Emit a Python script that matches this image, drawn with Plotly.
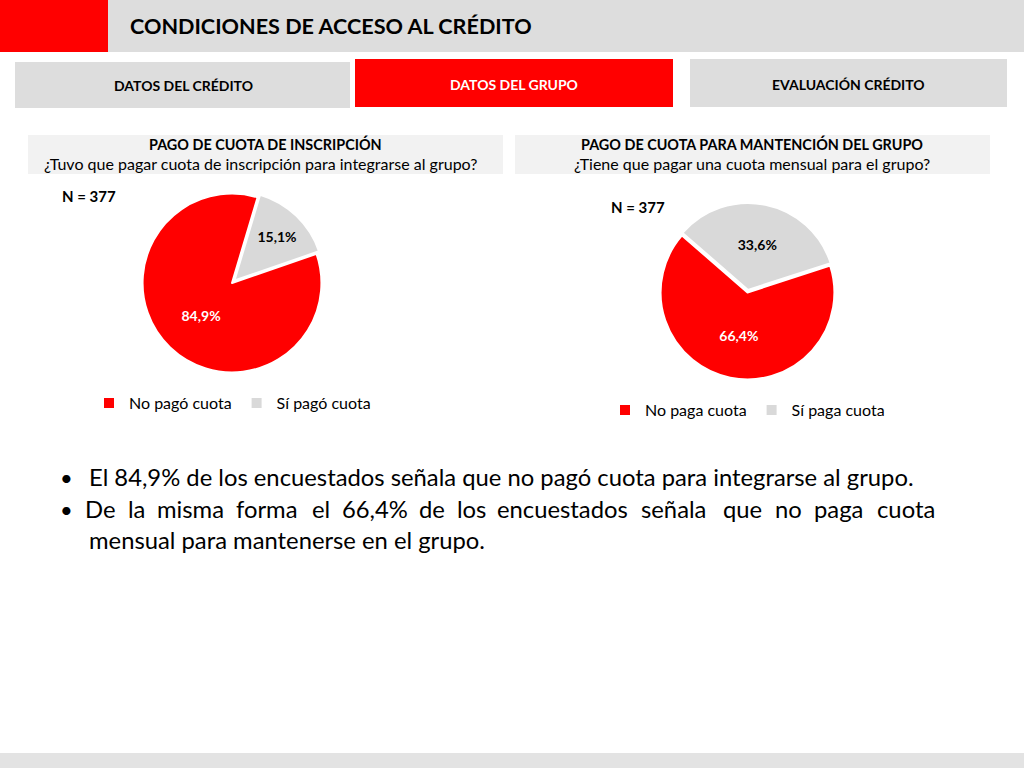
import plotly.graph_objects as go

W, H = 1024, 768

# chart data
labels_inscripcion = ["No pagó cuota", "Sí pagó cuota"]
values_inscripcion = [84.9, 15.1]
labels_mensual = ["No paga cuota", "Sí paga cuota"]
values_mensual = [66.4, 33.6]
n_encuestados = [377, 377]

RED = "#FF0000"
GRAY = "#D9D9D9"
FONT = "Lato"

def px(x):
  return x / W

def py(y):
  return 1 - y / H

def box(x0, y0, x1, y1, color):
  return dict(type="rect", xref="paper", yref="paper", x0=px(x0), x1=px(x1),
              y0=py(y1), y1=py(y0), fillcolor=color, line=dict(width=0), layer="below")

def text(x, y, s, size, color="black", xanchor="center", bold=False):
  if bold:
    s = "<b>" + s + "</b>"
  return dict(x=px(x), y=py(y), xref="paper", yref="paper", text=s, showarrow=False,
              xanchor=xanchor, yanchor="middle", font=dict(family=FONT, size=size, color=color))

fig = go.Figure()

fig.add_trace(go.Pie(
  labels=labels_inscripcion,
  values=values_inscripcion,
  sort=False,
  direction="clockwise",
  rotation=71,
  marker=dict(colors=[RED, GRAY], line=dict(color="white", width=2)),
  pull=[0, 0.04],
  texttemplate="<b>%{value:.1f}%</b>",
  textposition="inside",
  insidetextorientation="horizontal",
  textfont=dict(family=FONT, size=14, color=["white", "black"]),
  domain=dict(x=[px(139), px(325)], y=[py(376), py(190)]),
  legend="legend",
  hoverinfo="label+percent",
))

fig.add_trace(go.Pie(
  labels=labels_mensual,
  values=values_mensual,
  sort=False,
  direction="clockwise",
  rotation=72,
  marker=dict(colors=[RED, GRAY], line=dict(color="white", width=2)),
  pull=[0, 0.03],
  texttemplate="<b>%{value:.1f}%</b>",
  textposition="inside",
  insidetextorientation="horizontal",
  textfont=dict(family=FONT, size=14, color=["white", "black"]),
  domain=dict(x=[px(658), px(837)], y=[py(382), py(203)]),
  legend="legend2",
  hoverinfo="label+percent",
))

shapes = [
  box(0, 0, 1024, 52, "#DDDDDD"),
  box(0, 0, 108, 52, RED),
  box(15, 62, 350, 108, "#DDDDDD"),
  box(355, 59, 673, 107, RED),
  box(690, 59, 1007, 107, "#DDDDDD"),
  box(28, 135, 503, 174, "#F2F2F2"),
  box(515, 135, 990, 174, "#F2F2F2"),
  box(0, 753, 1024, 768, "#E3E3E3"),
]

annotations = [
  text(128, 26, "CONDICIONES DE ACCESO AL CRÉDITO", 21.6, xanchor="left", bold=True),
  text(183, 86, "DATOS DEL CRÉDITO", 14, bold=True),
  text(514, 84, "DATOS DEL GRUPO", 14, color="white", bold=True),
  text(848, 84, "EVALUACIÓN CRÉDITO", 14, bold=True),
  text(265, 144, "PAGO DE CUOTA DE INSCRIPCIÓN", 14.4, bold=True),
  text(260, 164, "¿Tuvo que pagar cuota de inscripción para integrarse al grupo?", 16),
  text(752, 144, "PAGO DE CUOTA PARA MANTENCIÓN DEL GRUPO", 14.4, bold=True),
  text(752, 164, "¿Tiene que pagar una cuota mensual para el grupo?", 16),
  text(60, 196, "N = %d" % n_encuestados[0], 15, xanchor="left", bold=True),
  text(609, 207, "N = %d" % n_encuestados[1], 15, xanchor="left", bold=True),
  text(58, 477, "•", 22, xanchor="left"),
  text(87, 477, "El 84,9% de los encuestados señala que no pagó cuota para integrarse al grupo.", 23.8, xanchor="left"),
  text(58, 509, "•", 22, xanchor="left"),
  text(87, 540, "mensual para mantenerse en el grupo.", 23.8, xanchor="left"),
]

# justified line: word centres spread evenly across the text column
line2_words = ["De", "la", "misma", "forma", "el", "66,4%", "de", "los", "encuestados",
               "señala", "que", "no", "paga", "cuota"]
line2_x = [100.5, 136.3, 190.6, 267.4, 320.7, 374.5, 432.3, 471.6, 562.4, 673.7, 742, 788.3, 838.6, 906.4]
for w, x in zip(line2_words, line2_x):
  annotations.append(text(x, 509, w, 23.8))

fig.update_layout(
  width=W, height=H,
  margin=dict(l=0, r=0, t=0, b=0),
  paper_bgcolor="white",
  plot_bgcolor="white",
  separators=",.",
  font=dict(family=FONT, color="black"),
  shapes=shapes,
  annotations=annotations,
  legend=dict(orientation="h", x=px(89), y=py(403), xanchor="left", yanchor="middle",
              font=dict(family=FONT, size=16, color="black"), bgcolor="rgba(0,0,0,0)", itemwidth=30),
  legend2=dict(orientation="h", x=px(605), y=py(410), xanchor="left", yanchor="middle",
               font=dict(family=FONT, size=16, color="black"), bgcolor="rgba(0,0,0,0)", itemwidth=30),
)

fig.write_html("out.html", config={"displayModeBar": False},
               post_script="document.body.style.margin='0';")
